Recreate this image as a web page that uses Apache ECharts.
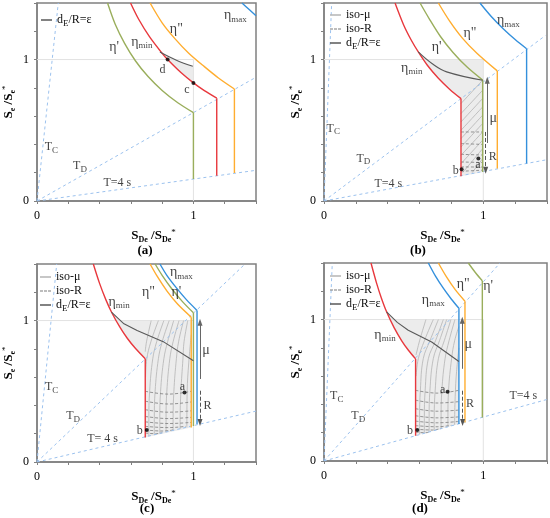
<!DOCTYPE html>
<html>
<head>
<meta charset="utf-8">
<script src="https://cdn.jsdelivr.net/npm/echarts@6/dist/echarts.min.js"></script>
<style>
  html, body { margin: 0; padding: 0; background: #fff; }
  #chart { width: 550px; height: 518px; }
</style>
</head>
<body>
<div id="chart"></div>
<script>
// four panels (a)-(d): normalised ADRS plots, S_e/S_e* vs S_De/S_De*

const FONT = "'Liberation Serif', 'DejaVu Serif', serif";
const COL = {
  red: '#e8383d', green: '#9aae5c', orange: '#ffad2f', blue: '#3490dc',
  ref: '#9cc2ee', eps: '#595959', iso: '#b4b4b4', isoR: '#7c7c7c',
  fill: '#ececec', axis: '#808080', grid: '#e2e2e2',
};

// reference lines (y = 1 and x = 1)
const REF_H = [[0, 1], [1, 1]];
const REF_V = [[1, 0], [1, 1]];

// ---- panel (a)
const A_TC = [[0, 0], [0.136, 1.4]];
const A_TD = [[0, 0], [1.4, 0.875]];
const A_T4 = [[0, 0], [1.4, 0.217]];
const A_RED = [[0.598, 1.40], [0.65, 1.285], [0.72, 1.16], [0.80, 1.044], [0.835, 1.0], [0.92, 0.908], [1.0, 0.835], [1.07, 0.78], [1.149, 0.727], [1.149, 0.178]];
const A_GREEN = [[0.451, 1.40], [0.50, 1.25], [0.56, 1.115], [0.63, 0.99], [0.71, 0.88], [0.80, 0.782], [0.90, 0.695], [1.0, 0.625], [1.0, 0.155]];
const A_ORANGE = [[0.723, 1.40], [0.80, 1.26], [0.88, 1.15], [0.97, 1.045], [1.07, 0.95], [1.16, 0.87], [1.262, 0.792], [1.262, 0.198]];
const A_BLUE = [[1.31, 1.40], [1.36, 1.35], [1.40, 1.31]];
const A_EPS = [[0.786, 1.054], [0.891, 0.996], [0.996, 0.953]];
const A_SHADE = [[0.786, 1.054], [0.891, 0.996], [0.996, 0.953], [1.0, 0.953], [1.0, 0.835], [0.92, 0.908], [0.835, 1.0], [0.80, 1.044]];
const A_PTS = [['c', 1.0, 0.835], ['d', 0.835, 1.0]];

// ---- panel (b)
const B_TC = [[0, 0], [0.048, 1.4]];
const B_TD = [[0, 0], [1.39, 1.17]];
const B_T4 = [[0, 0], [1.39, 0.29]];
const B_RED = [[0.446, 1.40], [0.50, 1.245], [0.55, 1.133], [0.592, 1.054], [0.65, 0.958], [0.718, 0.868], [0.79, 0.789], [0.860, 0.724], [0.860, 0.175]];
const B_GREEN = [[0.603, 1.40], [0.66, 1.29], [0.73, 1.165], [0.81, 1.05], [0.90, 0.945], [0.996, 0.855], [0.996, 0.205]];
const B_ORANGE = [[0.718, 1.40], [0.79, 1.27], [0.87, 1.15], [0.96, 1.045], [1.088, 0.92], [1.088, 0.229]];
const B_BLUE = [[0.979, 1.40], [1.05, 1.305], [1.13, 1.213], [1.20, 1.142], [1.272, 1.077], [1.272, 0.265]];
const B_EPS = [[0.592, 1.054], [0.68, 0.97], [0.77, 0.913], [0.996, 0.854]];
const B_SHADE = [[0.592, 1.054], [0.649, 1.0], [1.0, 1.0], [1.0, 0.205], [0.86, 0.175], [0.86, 0.724], [0.79, 0.789], [0.718, 0.868], [0.65, 0.958]];
const B_MU = [
  [[0.86, 0.689], [0.996, 0.854]], [[0.86, 0.618], [0.996, 0.783]],
  [[0.86, 0.559], [0.996, 0.725]], [[0.86, 0.50], [0.996, 0.665]],
  [[0.86, 0.441], [0.996, 0.607]], [[0.86, 0.382], [0.996, 0.548]],
  [[0.86, 0.323], [0.996, 0.488]], [[0.86, 0.264], [0.996, 0.43]],
  [[0.87, 0.20], [0.996, 0.37]], [[0.93, 0.20], [0.996, 0.30]],
];
const B_R = [
  [[0.86, 0.488], [0.996, 0.488]], [[0.86, 0.406], [0.996, 0.40]],
  [[0.86, 0.33], [0.996, 0.325]], [[0.86, 0.276], [0.996, 0.272]],
  [[0.86, 0.241], [0.996, 0.24]], [[0.86, 0.21], [0.996, 0.218]],
];
const B_PTS = [['a', 0.969, 0.30], ['b', 0.864, 0.224]];
const B_ARROW_MU = [[1.025, 0.41], [1.025, 0.854]];
const B_ARROW_R = [[1.015, 0.488], [1.015, 0.217]];

// ---- panel (c)
const C_TC = [[0, 0], [0.126, 1.4]];
const C_TD = [[0, 0], [1.33, 1.4]];
const C_T4 = [[0, 0], [1.4, 0.36]];
const C_RED = [[0.36, 1.40], [0.40, 1.263], [0.44, 1.148], [0.476, 1.061], [0.53, 0.953], [0.577, 0.875], [0.63, 0.802], [0.692, 0.73], [0.692, 0.173]];
const C_ORANGE = [[0.723, 1.40], [0.77, 1.31], [0.83, 1.21], [0.90, 1.115], [0.986, 1.024], [0.986, 0.244]];
const C_GREEN = [[0.755, 1.40], [0.80, 1.32], [0.86, 1.227], [0.93, 1.134], [1.0, 1.055], [1.0, 0.255]];
const C_BLUE = [[0.786, 1.40], [0.83, 1.32], [0.89, 1.233], [0.955, 1.148], [1.023, 1.072], [1.023, 0.267]];
const C_EPS = [[0.476, 1.06], [0.556, 0.977], [0.64, 0.929], [0.807, 0.851], [1.0, 0.716]];
const C_SHADE = [[0.476, 1.06], [0.534, 1.0], [0.986, 1.0], [0.986, 0.244], [0.692, 0.173], [0.692, 0.73], [0.63, 0.802], [0.577, 0.875], [0.53, 0.953]];
const C_MU = [
  [[0.73, 1.0], [0.70, 0.85], [0.692, 0.78]],
  [[0.776, 1.0], [0.728, 0.85], [0.702, 0.73], [0.694, 0.6]],
  [[0.811, 1.0], [0.765, 0.85], [0.74, 0.73], [0.72, 0.5], [0.715, 0.3], [0.715, 0.183]],
  [[0.845, 1.0], [0.80, 0.85], [0.776, 0.73], [0.755, 0.5], [0.75, 0.3], [0.75, 0.192]],
  [[0.874, 1.0], [0.835, 0.85], [0.811, 0.73], [0.79, 0.5], [0.785, 0.3], [0.785, 0.201]],
  [[0.908, 1.0], [0.87, 0.85], [0.849, 0.73], [0.83, 0.5], [0.825, 0.3], [0.825, 0.211]],
  [[0.937, 1.0], [0.905, 0.85], [0.891, 0.73], [0.875, 0.5], [0.87, 0.3], [0.87, 0.222]],
  [[0.964, 1.0], [0.94, 0.85], [0.933, 0.73], [0.92, 0.5], [0.915, 0.3], [0.915, 0.234]],
  [[0.986, 0.9], [0.97, 0.7], [0.96, 0.5], [0.958, 0.245]],
];
const C_R = [
  [[0.692, 0.50], [0.84, 0.48], [0.986, 0.50]],
  [[0.692, 0.43], [0.84, 0.41], [0.986, 0.425]],
  [[0.692, 0.37], [0.84, 0.352], [0.986, 0.362]],
  [[0.692, 0.322], [0.84, 0.307], [0.986, 0.316]],
  [[0.692, 0.284], [0.84, 0.272], [0.986, 0.28]],
  [[0.692, 0.252], [0.84, 0.243], [0.95, 0.252]],
  [[0.692, 0.227], [0.80, 0.219], [0.88, 0.228]],
  [[0.692, 0.205], [0.76, 0.2], [0.80, 0.207]],
];
const C_PTS = [['a', 0.943, 0.492], ['b', 0.702, 0.227]];
const C_ARROW_MU = [[1.042, 0.587], [1.042, 0.989]];
const C_ARROW_R = [[1.042, 0.504], [1.042, 0.279]];

// ---- panel (d)
const D_TC = [[0, 0], [0.052, 1.4]];
const D_TD = [[0, 0], [1.105, 1.4]];
const D_T4 = [[0, 0], [1.4, 0.435]];
const D_RED = [[0.295, 1.40], [0.33, 1.258], [0.36, 1.153], [0.393, 1.055], [0.44, 0.943], [0.488, 0.85], [0.53, 0.783], [0.575, 0.722], [0.575, 0.178]];
const D_BLUE = [[0.655, 1.40], [0.70, 1.307], [0.75, 1.22], [0.80, 1.144], [0.847, 1.08], [0.847, 0.261]];
const D_ORANGE = [[0.718, 1.40], [0.77, 1.30], [0.825, 1.21], [0.885, 1.13], [0.885, 0.273]];
const D_GREEN = [[0.906, 1.40], [0.95, 1.333], [0.994, 1.274], [0.994, 0.308]];
const D_EPS = [[0.393, 1.055], [0.46, 0.98], [0.529, 0.924], [0.676, 0.841], [0.847, 0.704]];
const D_SHADE = [[0.393, 1.055], [0.442, 1.0], [0.847, 1.0], [0.847, 0.261], [0.575, 0.178], [0.575, 0.722], [0.53, 0.783], [0.488, 0.85], [0.44, 0.943]];
const D_MU = [
  [[0.64, 1.0], [0.60, 0.85], [0.578, 0.75]],
  [[0.686, 1.0], [0.63, 0.85], [0.592, 0.723], [0.578, 0.6]],
  [[0.718, 1.0], [0.665, 0.85], [0.623, 0.723], [0.605, 0.5], [0.60, 0.3], [0.60, 0.19]],
  [[0.749, 1.0], [0.70, 0.85], [0.655, 0.723], [0.635, 0.5], [0.63, 0.3], [0.63, 0.197]],
  [[0.77, 1.0], [0.725, 0.85], [0.686, 0.723], [0.665, 0.5], [0.66, 0.3], [0.66, 0.206]],
  [[0.797, 1.0], [0.755, 0.85], [0.718, 0.723], [0.698, 0.5], [0.692, 0.3], [0.692, 0.216]],
  [[0.822, 1.0], [0.785, 0.85], [0.76, 0.723], [0.74, 0.5], [0.735, 0.3], [0.735, 0.229]],
  [[0.847, 0.95], [0.82, 0.85], [0.801, 0.723], [0.782, 0.5], [0.778, 0.3], [0.778, 0.242]],
  [[0.847, 0.80], [0.83, 0.6], [0.822, 0.4], [0.82, 0.255]],
];
const D_R = [
  [[0.575, 0.50], [0.71, 0.48], [0.847, 0.50]],
  [[0.575, 0.43], [0.71, 0.41], [0.847, 0.42]],
  [[0.575, 0.37], [0.71, 0.352], [0.847, 0.36]],
  [[0.575, 0.32], [0.71, 0.305], [0.847, 0.312]],
  [[0.575, 0.282], [0.71, 0.27], [0.847, 0.28]],
  [[0.575, 0.25], [0.71, 0.242], [0.80, 0.252]],
  [[0.575, 0.225], [0.68, 0.219], [0.74, 0.232]],
  [[0.575, 0.203], [0.64, 0.2], [0.67, 0.208]],
];
const D_PTS = [['a', 0.776, 0.49], ['b', 0.586, 0.22]];
const D_ARROW_MU = [[0.868, 0.652], [0.868, 0.995]];
const D_ARROW_R = [[0.87, 0.497], [0.87, 0.273]];

// label texts (rich)
const LBL = {
  etaP: "{e|η'}", etaPP: '{e|η"}', etaMin: '{e|η}{s|min}', etaMax: '{e|η}{s|max}',
  TC: '{t|T}{s|C}', TD: '{t|T}{s|D}', T4: '{t|T=4 s}', T4b: '{t|T= 4 s}',
  mu: '{e|μ}', R: '{t|R}', a: '{t|a}', b: '{t|b}', c: '{t|c}', d: '{t|d}',
};

// annotation positions, data coords
const A_LABELS = [['etaP', 0.493, 1.09], ['etaMin', 0.671, 1.125], ['etaPP', 0.891, 1.215], ['etaMax', 1.268, 1.31],
  ['d', 0.803, 0.925], ['c', 0.958, 0.783], ['TC', 0.092, 0.38], ['TD', 0.275, 0.246], ['T4', 0.514, 0.125]];
const B_LABELS = [['etaP', 0.707, 1.09], ['etaMin', 0.551, 0.937], ['etaPP', 0.917, 1.185], ['etaMax', 1.157, 1.274],
  ['TC', 0.058, 0.512], ['TD', 0.247, 0.30], ['T4', 0.404, 0.123], ['mu', 1.063, 0.583], ['R', 1.059, 0.311],
  ['a', 0.967, 0.253], ['b', 0.827, 0.212]];
const C_LABELS = [['etaMax', 0.923, 1.338], ['etaPP', 0.713, 1.201], ['etaP', 0.891, 1.201], ['etaMin', 0.525, 1.13],
  ['TC', 0.094, 0.528], ['TD', 0.231, 0.326], ['T4b', 0.419, 0.161], ['mu', 1.08, 0.787], ['R', 1.09, 0.397],
  ['a', 0.929, 0.532], ['b', 0.657, 0.22]];
const D_LABELS = [['etaPP', 0.874, 1.249], ['etaP', 1.031, 1.232], ['etaMax', 0.686, 1.137], ['etaMin', 0.383, 0.888],
  ['T4', 1.251, 0.462], ['TC', 0.08, 0.462], ['TD', 0.215, 0.32], ['mu', 0.906, 0.822], ['R', 0.917, 0.403],
  ['a', 0.745, 0.505], ['b', 0.54, 0.213]];

const PANELS = [
  { tag: '(a)', grid: { left: 33, top: 3, width: 223, height: 198 }, caption: [145, 251],
    tc: A_TC, td: A_TD, t4: A_T4, shade: A_SHADE, eps: A_EPS, epsSmooth: true,
    curves: [[A_GREEN, COL.green, true], [A_RED, COL.red, true], [A_ORANGE, COL.orange, true], [A_BLUE, COL.blue, false]],
    mu: [], r: [], arrows: null, pts: A_PTS, labels: A_LABELS, legend: ['dE'], legendPos: [36, 9] },
  { tag: '(b)', grid: { left: 324, top: 3, width: 223, height: 198 }, caption: [418, 251],
    tc: B_TC, td: B_TD, t4: B_T4, shade: B_SHADE, eps: B_EPS, epsSmooth: true,
    curves: [[B_GREEN, COL.green, true], [B_RED, COL.red, true], [B_ORANGE, COL.orange, true], [B_BLUE, COL.blue, true]],
    mu: B_MU, r: B_R, arrows: [B_ARROW_MU, B_ARROW_R], pts: B_PTS, labels: B_LABELS,
    legend: ['iso-μ', 'iso-R', 'dE'], legendPos: [325, 4] },
  { tag: '(c)', grid: { left: 33, top: 264, width: 223, height: 198 }, caption: [147, 509],
    tc: C_TC, td: C_TD, t4: C_T4, shade: C_SHADE, eps: C_EPS, epsSmooth: false,
    curves: [[C_GREEN, COL.green, true], [C_RED, COL.red, true], [C_ORANGE, COL.orange, true], [C_BLUE, COL.blue, true]],
    mu: C_MU, r: C_R, arrows: [C_ARROW_MU, C_ARROW_R], pts: C_PTS, labels: C_LABELS,
    legend: ['iso-μ', 'iso-R', 'dE'], legendPos: [35, 266] },
  { tag: '(d)', grid: { left: 324, top: 263, width: 223, height: 198 }, caption: [420, 509],
    tc: D_TC, td: D_TD, t4: D_T4, shade: D_SHADE, eps: D_EPS, epsSmooth: false,
    curves: [[D_GREEN, COL.green, true], [D_RED, COL.red, true], [D_ORANGE, COL.orange, true], [D_BLUE, COL.blue, true]],
    mu: D_MU, r: D_R, arrows: [D_ARROW_MU, D_ARROW_R], pts: D_PTS, labels: D_LABELS,
    legend: ['iso-μ', 'iso-R', 'dE'], legendPos: [325, 265] },
];

const RICH_LBL = {
  e: { fontFamily: FONT, fontSize: 14, color: '#111' },
  t: { fontFamily: FONT, fontSize: 12, color: '#111' },
  s: { fontFamily: FONT, fontSize: 9, color: '#111', padding: [7, 0, 0, 0] },
};
const RICH_NAME = {
  b: { fontFamily: FONT, fontSize: 13, fontWeight: 'bold', color: '#000' },
  bs: { fontFamily: FONT, fontSize: 8, fontWeight: 'bold', color: '#000', padding: [7, 0, 0, 0] },
  sup: { fontFamily: FONT, fontSize: 9, color: '#000', padding: [0, 0, 7, 0] },
};

// legend icons: solid bar, dashed bar
const ICON_DASH = 'path://M0,0h3v1h-3zM4,0h3v1h-3zM8,0h3v1h-3z';
const LEGEND_ITEMS = {
  'iso-μ': { name: 'iso-μ', icon: 'rect', itemStyle: { color: COL.iso } },
  'iso-R': { name: 'iso-R', icon: ICON_DASH, itemStyle: { color: COL.isoR } },
  dE: { name: 'dE', icon: 'rect', itemStyle: { color: COL.eps } },
};

function line(i, data, color, width, extra) {
  return Object.assign({
    type: 'line', xAxisIndex: i, yAxisIndex: i, data, symbol: 'none',
    lineStyle: { color, width }, itemStyle: { color }, silent: true, z: 3,
  }, extra || {});
}

const series = [];
PANELS.forEach((p, i) => {
  // shaded domain
  series.push({
    type: 'custom', xAxisIndex: i, yAxisIndex: i, data: [[0, 0]], silent: true, z: 1,
    renderItem: (params, api) => ({
      type: 'polygon', shape: { points: p.shade.map(q => api.coord(q)) },
      style: { fill: COL.fill },
    }),
  });
  series.push(line(i, REF_H, COL.grid, 1, { z: 2 }));
  series.push(line(i, REF_V, COL.grid, 1, { z: 2 }));
  p.mu.forEach(m => series.push(line(i, m, COL.iso, 0.8, { name: 'iso-μ', smooth: 0.4, z: 2 })));
  p.r.forEach(m => series.push(line(i, m, COL.isoR, 0.8, { name: 'iso-R', smooth: 0.4, z: 2, lineStyle: { color: COL.isoR, width: 0.8, type: [3, 2] } })));
  [p.tc, p.td, p.t4].forEach(d => series.push(line(i, d, COL.ref, 1, { lineStyle: { color: COL.ref, width: 1, type: [3, 3] } })));
  p.curves.forEach(([arr, color, drop]) => {
    const curve = drop ? arr.slice(0, -1) : arr;
    series.push(line(i, curve, color, 1.4, { smooth: 0.3, z: 4 }));
    if (drop) series.push(line(i, arr.slice(-2), color, 1.4, { z: 4 }));
  });
  series.push(line(i, p.eps, COL.eps, 1.1, { name: 'dE', smooth: p.epsSmooth ? 0.4 : false, z: 5 }));
  if (p.arrows) {
    const [am, ar] = p.arrows;
    series.push(line(i, [], '#444', 1, {
      markLine: {
        silent: true, symbol: ['none', 'triangle'], symbolSize: [5, 7], label: { show: false },
        data: [
          [{ coord: am[0], lineStyle: { color: '#666', width: 1, type: 'solid' } }, { coord: am[1] }],
          [{ coord: ar[0], lineStyle: { color: '#555', width: 1, type: [4, 2] } }, { coord: ar[1] }],
        ],
      },
    }));
  }
  series.push({
    type: 'scatter', xAxisIndex: i, yAxisIndex: i, silent: true, z: 6,
    symbolSize: 4, itemStyle: { color: '#000' },
    data: p.pts.map(q => ({ name: q[0], value: [q[1], q[2]] })),
  });
  series.push({
    type: 'scatter', xAxisIndex: i, yAxisIndex: i, silent: true, z: 7, symbolSize: 0,
    data: p.labels.map(q => ({ name: q[0], value: [q[1], q[2]] })),
    label: {
      show: true, position: 'inside', formatter: prm => LBL[prm.name], rich: RICH_LBL,
    },
  });
});

const isTick = (v, t) => Math.abs(v - t) < 1e-6;
const tickLabel = v => (isTick(v, 0) ? '0' : isTick(v, 1) ? '1' : '');

const axisCommon = {
  type: 'value', min: 0, max: 1.4, interval: 0.2,
  axisLine: { show: true, onZero: false, lineStyle: { color: COL.axis, width: 1.5 } },
  axisTick: { show: true, length: 3, lineStyle: { color: COL.axis, width: 1 } },
  splitLine: { show: false },
  axisLabel: { formatter: tickLabel, fontFamily: FONT, fontSize: 12, color: '#000', showMinLabel: true },
  nameLocation: 'middle',
};

const option = {
  animation: false,
  backgroundColor: '#fff',
  grid: PANELS.map(p => Object.assign({ show: true, borderColor: COL.axis, borderWidth: 1.5 }, p.grid)),
  xAxis: PANELS.map((p, i) => Object.assign({}, axisCommon, {
    gridIndex: i, axisLabel: Object.assign({}, axisCommon.axisLabel, { margin: 9 }),
    name: '{b|S}{bs|De}{b| /S}{bs|De}{sup|*}', nameGap: 27,
    nameTextStyle: { rich: RICH_NAME, padding: [0, 0, 0, 14] },
  })),
  yAxis: PANELS.map((p, i) => Object.assign({}, axisCommon, {
    gridIndex: i, axisLabel: Object.assign({}, axisCommon.axisLabel, { margin: 8 }),
    name: '{b|S}{bs|e}{b| /S}{bs|e}{sup|*}', nameGap: 20, nameRotate: 90,
    nameTextStyle: { rich: RICH_NAME },
  })),
  legend: PANELS.map(p => ({
    data: p.legend.map(n => LEGEND_ITEMS[n]), orient: 'vertical', left: p.legendPos[0], top: p.legendPos[1],
    itemWidth: 11, itemHeight: 1.5, itemGap: 2, selectedMode: false,
    formatter: n => (n === 'dE' ? '{t|d}{s|E}{t|/R=ε}' : '{t|' + n + '}'),
    textStyle: { fontFamily: FONT, fontSize: 12, color: '#111', rich: RICH_LBL },
  })),
  graphic: PANELS.map(p => ({
    type: 'text', x: p.caption[0], y: p.caption[1], silent: true,
    style: {
      text: p.tag, fill: '#000', fontFamily: FONT, fontSize: 13, fontWeight: 'bold',
      align: 'center', verticalAlign: 'middle', textAlign: 'center', textVerticalAlign: 'middle',
    },
  })),
  series,
};

const chart = echarts.init(document.getElementById('chart'));
chart.setOption(option);
</script>
</body>
</html>
